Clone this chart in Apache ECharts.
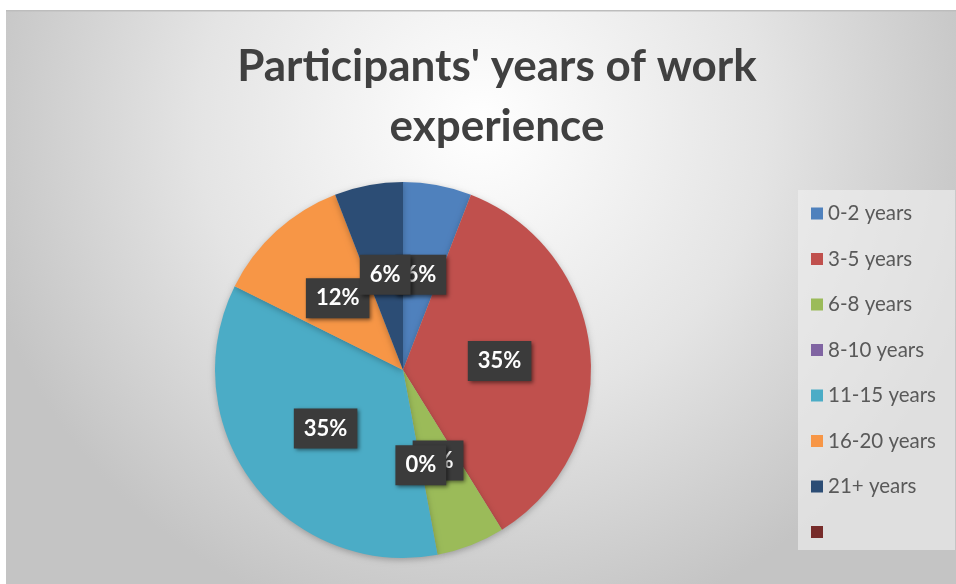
<!DOCTYPE html>
<html><head><meta charset="utf-8">
<script src="https://cdn.jsdelivr.net/npm/echarts@6/dist/echarts.min.js"></script>
<style>html,body{margin:0;padding:0;background:#fff}#c{width:956px;height:584px}</style>
</head><body><div id="c"></div>
<script>
var titleText = "Participants' years of work\nexperience";
var categories = ['0-2 years','3-5 years','6-8 years','8-10 years','11-15 years','16-20 years','21+ years',' '];
var counts = [1, 6, 1, 0, 6, 2, 1, 0];
var colors = ['#4F81BD','#C0504D','#9BBB59','#8064A2','#4BACC6','#F79646','#2C4D75','#772C2A'];
var hiddenLabel = [false,false,false,false,false,false,false,true];

var chart = echarts.init(document.getElementById('c'), null, {renderer:'canvas'});
var data = categories.map(function(n,i){
  var d = {name:n, value:counts[i], itemStyle:{color:colors[i]}};
  if (hiddenLabel[i]) d.label = {show:false};
  return d;
});
chart.setOption({
  animation:false,
  graphic:[
    {type:'rect', z:-10, shape:{x:6,y:10,width:950,height:574},
     style:{fill:{type:'radial',x:0.5,y:0.2,r:0.9,colorStops:[{offset:0,color:'#ffffff'},{offset:0.55,color:'#e4e4e4'},{offset:1,color:'#c4c4c4'}]}}},
    {type:'rect', z:-9, shape:{x:6,y:10,width:950,height:1.5}, style:{fill:'#bdbdbd'}},
    {type:'rect', z:-8, shape:{x:798,y:190,width:157,height:360}, style:{fill:'rgba(238,238,238,0.65)'}}
  ],
  title:{text:titleText, left:492, top:32, textAlign:'center',
    textStyle:{fontFamily:'Lato', fontWeight:'bold', fontSize:44, color:'#404040', lineHeight:60}},
  legend:{orient:'vertical', left:806, top:198, itemWidth:12, itemHeight:12, itemGap:24.5, icon:'rect',
    data:categories,
    textStyle:{fontFamily:'Lato', fontSize:20.5, color:'#595959', lineHeight:21}},
  series:[{
    type:'pie', center:[403,370], radius:188, startAngle:90, clockwise:true,
    avoidLabelOverlap:false, stillShowZeroSum:true, minShowLabelAngle:0,
    labelLayout:{hideOverlap:false},
    itemStyle:{shadowBlur:6, shadowColor:'rgba(0,0,0,0.25)', shadowOffsetY:2},
    label:{show:true, position:'inside', formatter:function(p){return Math.round(p.percent)+'%';},
      fontFamily:'Lato', fontWeight:'bold', fontSize:22, color:'#ffffff',
      backgroundColor:'#3b3b3b', padding:[9,10,9,10],
      shadowBlur:4, shadowColor:'rgba(0,0,0,0.5)', shadowOffsetX:2, shadowOffsetY:2},
    labelLine:{show:false},
    emphasis:{disabled:true},
    data:data
  }]
});
</script></body></html>
